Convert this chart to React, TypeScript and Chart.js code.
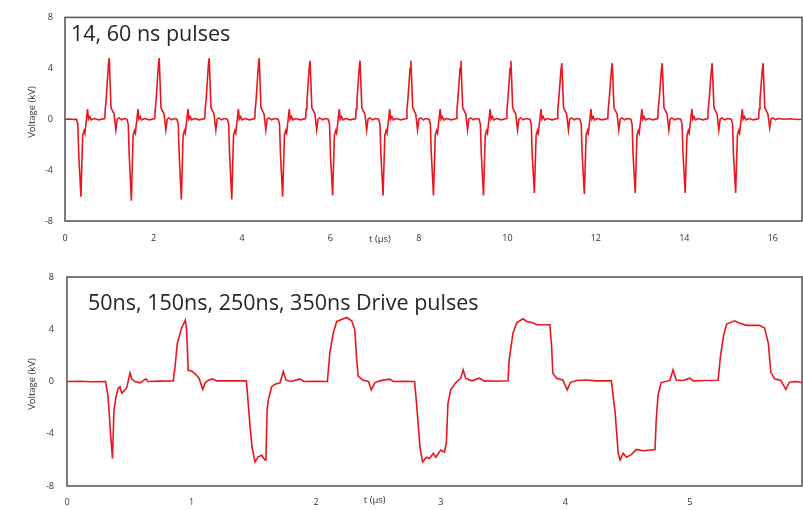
import React, { useEffect, useRef } from 'react';
import { Chart, registerables } from 'chart.js';

Chart.register(...registerables);

type Pt = [number, number];

// ---------- Upper trace: 14 bipolar pulse pairs (t in µs, V in kV) ----------
const topLead: Pt[] = [[0, 0], [0.1, 0.02], [0.2, -0.02]];
const topPulse01: Pt[] = [[0.26,0],[0.29,-0.4],[0.31,-2.7],[0.36,-6.1],[0.40,-1.25],[0.43,-0.9],[0.45,-1.1],[0.51,0.8],[0.53,0],[0.56,0.2],[0.59,-0.05],[0.66,0.05],[0.76,-0.05],
  [0.90,0.05],[0.91,0.8],[0.93,1.5],[0.98,4.2],[1.00,4.8],[1.04,0.9],[1.07,0.7],[1.11,0.4],[1.15,-0.85],[1.18,0],[1.22,0.1],[1.28,-0.05],[1.34,0.05]];
const topPulse02: Pt[] = [[1.40,0],[1.43,-0.4],[1.45,-2.7],[1.50,-6.4],[1.54,-1.25],[1.57,-0.9],[1.59,-1.1],[1.65,0.8],[1.67,0],[1.70,0.2],[1.73,-0.05],[1.80,0.05],[1.90,-0.05],
  [2.03,0.05],[2.04,0.8],[2.06,1.5],[2.11,4.2],[2.13,4.8],[2.17,0.9],[2.20,0.7],[2.24,0.4],[2.28,-0.85],[2.31,0],[2.35,0.1],[2.41,-0.05],[2.47,0.05]];
const topPulse03: Pt[] = [[2.53,0],[2.56,-0.4],[2.58,-2.7],[2.63,-6.3],[2.67,-1.25],[2.70,-0.9],[2.72,-1.1],[2.78,0.8],[2.80,0],[2.83,0.2],[2.86,-0.05],[2.93,0.05],[3.03,-0.05],
  [3.16,0.05],[3.17,0.8],[3.19,1.5],[3.24,4.2],[3.26,4.8],[3.30,0.9],[3.33,0.7],[3.37,0.4],[3.41,-0.85],[3.44,0],[3.48,0.1],[3.54,-0.05],[3.60,0.05]];
const topPulse04: Pt[] = [[3.67,0],[3.70,-0.4],[3.72,-2.7],[3.77,-6.3],[3.81,-1.25],[3.84,-0.9],[3.86,-1.1],[3.92,0.8],[3.94,0],[3.97,0.2],[4.00,-0.05],[4.07,0.05],[4.17,-0.05],
  [4.29,0.05],[4.30,0.8],[4.32,1.5],[4.37,4.2],[4.39,4.8],[4.43,0.9],[4.46,0.7],[4.50,0.4],[4.54,-0.85],[4.57,0],[4.61,0.1],[4.67,-0.05],[4.73,0.05]];
const topPulse05: Pt[] = [[4.82,0],[4.85,-0.4],[4.87,-2.7],[4.92,-6.1],[4.96,-1.25],[4.99,-0.9],[5.01,-1.1],[5.07,0.8],[5.09,0],[5.12,0.2],[5.15,-0.05],[5.22,0.05],[5.32,-0.05],
  [5.44,0.05],[5.45,0.8],[5.47,1.5],[5.52,4.0],[5.54,4.6],[5.58,0.9],[5.61,0.7],[5.65,0.4],[5.69,-0.85],[5.72,0],[5.76,0.1],[5.82,-0.05],[5.88,0.05]];
const topPulse06: Pt[] = [[5.95,0],[5.98,-0.4],[6.00,-2.7],[6.05,-6.0],[6.09,-1.25],[6.12,-0.9],[6.14,-1.1],[6.20,0.8],[6.22,0],[6.25,0.2],[6.28,-0.05],[6.35,0.05],[6.45,-0.05],
  [6.57,0.05],[6.58,0.8],[6.60,1.5],[6.65,4.0],[6.67,4.6],[6.71,0.9],[6.74,0.7],[6.78,0.4],[6.82,-0.85],[6.85,0],[6.89,0.1],[6.95,-0.05],[7.01,0.05]];
const topPulse07: Pt[] = [[7.09,0],[7.12,-0.4],[7.14,-2.7],[7.19,-6.0],[7.23,-1.25],[7.26,-0.9],[7.28,-1.1],[7.34,0.8],[7.36,0],[7.39,0.2],[7.42,-0.05],[7.49,0.05],[7.59,-0.05],
  [7.72,0.05],[7.73,0.8],[7.75,1.5],[7.80,4.0],[7.82,4.6],[7.86,0.9],[7.89,0.7],[7.93,0.4],[7.97,-0.85],[8.00,0],[8.04,0.1],[8.10,-0.05],[8.16,0.05]];
const topPulse08: Pt[] = [[8.23,0],[8.26,-0.4],[8.28,-2.7],[8.33,-6.0],[8.37,-1.25],[8.40,-0.9],[8.42,-1.1],[8.48,0.8],[8.50,0],[8.53,0.2],[8.56,-0.05],[8.63,0.05],[8.73,-0.05],
  [8.85,0.05],[8.86,0.8],[8.88,1.5],[8.93,4.0],[8.95,4.6],[8.99,0.9],[9.02,0.7],[9.06,0.4],[9.10,-0.85],[9.13,0],[9.17,0.1],[9.23,-0.05],[9.29,0.05]];
const topPulse09: Pt[] = [[9.36,0],[9.39,-0.4],[9.41,-2.7],[9.46,-6.0],[9.50,-1.25],[9.53,-0.9],[9.55,-1.1],[9.61,0.8],[9.63,0],[9.66,0.2],[9.69,-0.05],[9.76,0.05],[9.86,-0.05],
  [9.98,0.05],[9.99,0.8],[10.01,1.5],[10.06,4.0],[10.08,4.6],[10.12,0.9],[10.15,0.7],[10.19,0.4],[10.23,-0.85],[10.26,0],[10.30,0.1],[10.36,-0.05],[10.42,0.05]];
const topPulse10: Pt[] = [[10.51,0],[10.54,-0.4],[10.56,-2.7],[10.61,-5.8],[10.65,-1.25],[10.68,-0.9],[10.70,-1.1],[10.76,0.8],[10.78,0],[10.81,0.2],[10.84,-0.05],[10.91,0.05],[11.01,-0.05],
  [11.13,0.05],[11.14,0.8],[11.16,1.5],[11.21,3.8],[11.23,4.4],[11.27,0.9],[11.30,0.7],[11.34,0.4],[11.38,-0.85],[11.41,0],[11.45,0.1],[11.51,-0.05],[11.57,0.05]];
const topPulse11: Pt[] = [[11.64,0],[11.67,-0.4],[11.69,-2.7],[11.74,-5.9],[11.78,-1.25],[11.81,-0.9],[11.83,-1.1],[11.89,0.8],[11.91,0],[11.94,0.2],[11.97,-0.05],[12.04,0.05],[12.14,-0.05],
  [12.27,0.05],[12.28,0.8],[12.30,1.5],[12.35,3.8],[12.37,4.4],[12.41,0.9],[12.44,0.7],[12.48,0.4],[12.52,-0.85],[12.55,0],[12.59,0.1],[12.65,-0.05],[12.71,0.05]];
const topPulse12: Pt[] = [[12.79,0],[12.82,-0.4],[12.84,-2.7],[12.89,-5.8],[12.93,-1.25],[12.96,-0.9],[12.98,-1.1],[13.04,0.8],[13.06,0],[13.09,0.2],[13.12,-0.05],[13.19,0.05],[13.29,-0.05],
  [13.40,0.05],[13.41,0.8],[13.43,1.5],[13.48,3.8],[13.50,4.4],[13.54,0.9],[13.57,0.7],[13.61,0.4],[13.65,-0.85],[13.68,0],[13.72,0.1],[13.78,-0.05],[13.84,0.05]];
const topPulse13: Pt[] = [[13.92,0],[13.95,-0.4],[13.97,-2.7],[14.02,-5.8],[14.06,-1.25],[14.09,-0.9],[14.11,-1.1],[14.17,0.8],[14.19,0],[14.22,0.2],[14.25,-0.05],[14.32,0.05],[14.42,-0.05],
  [14.53,0.05],[14.54,0.8],[14.56,1.5],[14.61,3.8],[14.63,4.4],[14.67,0.9],[14.70,0.7],[14.74,0.4],[14.78,-0.85],[14.81,0],[14.85,0.1],[14.91,-0.05],[14.97,0.05]];
const topPulse14: Pt[] = [[15.06,0],[15.09,-0.4],[15.11,-2.7],[15.16,-5.8],[15.20,-1.25],[15.23,-0.9],[15.25,-1.1],[15.31,0.8],[15.33,0],[15.36,0.2],[15.39,-0.05],[15.46,0.05],[15.56,-0.05],
  [15.68,0.05],[15.69,0.8],[15.71,1.5],[15.76,3.8],[15.78,4.4],[15.82,0.9],[15.85,0.7],[15.89,0.4],[15.93,-0.7],[15.96,0],[16.00,0.1],[16.06,-0.05],[16.12,0.05]];
const topTail: Pt[] = [[16.25, 0], [16.4, 0.03], [16.55, -0.02], [16.66, 0]];

// ---------- Lower trace: 50 / 150 / 250 / 350 ns drive pulses ----------
const bottomNeg1: Pt[] = [[0,0],[0.1,0.02],[0.2,-0.02],[0.31,0],
  [0.33,-1.2],[0.35,-4.0],[0.365,-5.9],[0.377,-2.2],[0.393,-1.2],[0.41,-0.55],[0.425,-0.4],[0.44,-0.9],[0.46,-0.7],[0.48,-0.45],[0.506,0.65],[0.52,0.2],[0.545,0],[0.586,-0.1],[0.634,0.2],[0.65,0],[0.75,0.03],[0.853,0.05]];
const bottomPos1: Pt[] = [[0.867,1.1],[0.885,2.9],[0.92,4.1],[0.95,4.7],[0.96,4.0],[0.973,0.85],[1.0,0.8],[1.027,0.6],[1.06,0.25],[1.09,-0.6],[1.11,-0.1],[1.134,0.1],[1.17,0.2],[1.2,0.05],[1.3,0.05],[1.44,0.05]];
const bottomNeg2: Pt[] = [[1.47,-3.5],[1.485,-5.0],[1.509,-6.15],[1.535,-5.77],[1.563,-5.64],[1.589,-6.0],[1.597,-6.0],[1.606,-2.2],[1.616,-1.4],[1.643,-0.4],[1.67,-0.2],[1.71,-0.1],[1.736,0.77],[1.758,0.1],[1.8,0],[1.87,0.2],[1.9,0],[2.0,0.02],[2.09,0]];
const bottomPos2: Pt[] = [[2.11,2.2],[2.137,3.7],[2.165,4.6],[2.205,4.75],[2.245,4.9],[2.285,4.65],[2.31,4.0],[2.325,1.7],[2.338,0.4],[2.378,0.1],[2.42,0],[2.443,-0.64],[2.47,-0.1],[2.51,0.05],[2.59,0.18],[2.62,0],[2.7,0.02],[2.79,0]];
const bottomNeg3: Pt[] = [[2.806,-1.7],[2.833,-5.0],[2.854,-6.15],[2.886,-5.8],[2.91,-5.9],[2.94,-5.5],[2.96,-5.8],[3.0,-5.25],[3.03,-5.4],[3.045,-4.7],[3.058,-1.7],[3.08,-0.64],[3.12,-0.1],[3.16,0.25],[3.18,0.9],[3.2,0.25],[3.25,0.05],[3.31,0.25],[3.35,0.05],[3.45,0.02],[3.54,0.05]];
const bottomPos3: Pt[] = [[3.55,1.7],[3.58,3.7],[3.61,4.5],[3.66,4.8],[3.69,4.6],[3.74,4.5],[3.77,4.35],[3.876,4.35],[3.89,2.7],[3.90,0.64],[3.93,0.25],[3.98,0.12],[4.015,-0.64],[4.04,-0.08],[4.09,0.08],[4.17,0.12],[4.25,0.05],[4.37,0.05]];
const bottomNeg4: Pt[] = [[4.40,-2.4],[4.425,-5.5],[4.44,-6.0],[4.465,-5.5],[4.49,-5.8],[4.53,-5.6],[4.57,-5.2],[4.625,-5.3],[4.72,-5.2],[4.73,-2.9],[4.745,-1.0],[4.77,-0.08],[4.84,0.08],[4.865,0.9],[4.89,0.12],[4.945,0.08],[5.0,0.25],[5.03,0.05],[5.12,0.08],[5.227,0.1]];
const bottomPos4: Pt[] = [[5.245,1.9],[5.27,3.5],[5.295,4.4],[5.36,4.65],[5.39,4.5],[5.455,4.3],[5.56,4.3],[5.6,4.1],[5.63,2.9],[5.65,0.7],[5.68,0.2],[5.73,0.08],[5.77,-0.6],[5.80,-0.05],[5.855,0],[5.9,-0.1]];

// ---------- Axis ticks ----------
const topXTicks = [0, 2, 4, 6, 8, 10, 12, 14, 16];
const bottomXTicks = [0, 1, 2, 3, 4, 5];
const voltTicks = [-8, -4, 0, 4, 8];

const topTrace: Pt[] = [
  ...topLead, ...topPulse01, ...topPulse02, ...topPulse03, ...topPulse04, ...topPulse05,
  ...topPulse06, ...topPulse07, ...topPulse08, ...topPulse09, ...topPulse10, ...topPulse11,
  ...topPulse12, ...topPulse13, ...topPulse14, ...topTail,
];
const bottomTrace: Pt[] = [
  ...bottomNeg1, ...bottomPos1, ...bottomNeg2, ...bottomPos2,
  ...bottomNeg3, ...bottomPos3, ...bottomNeg4, ...bottomPos4,
];

const FONT = '"Open Sans", "Liberation Sans", sans-serif';

// Frame around the plot area, panel caption and axis titles
const panelDecor = {
  id: 'panelDecor',
  afterDraw(chart: any, _args: any, opts: any) {
    const { ctx, chartArea: a, scales } = chart;
    ctx.save();
    ctx.strokeStyle = '#5a5a5a';
    ctx.lineWidth = 1.6;
    ctx.strokeRect(a.left, a.top, a.right - a.left, a.bottom - a.top);

    ctx.fillStyle = '#262626';
    ctx.font = `21.5px ${FONT}`;
    ctx.textAlign = 'left';
    ctx.textBaseline = 'alphabetic';
    ctx.fillText(opts.caption, a.left + opts.captionDx, opts.captionBaseline);

    ctx.fillStyle = '#333333';
    ctx.font = `9.5px ${FONT}`;
    ctx.textAlign = 'center';
    ctx.textBaseline = 'middle';
    ctx.fillText('t (µs)', scales.x.getPixelForValue(opts.xTitleAt), opts.xTitleY);

    ctx.translate(opts.yTitleX, opts.yTitleY);
    ctx.rotate(-Math.PI / 2);
    ctx.fillText('Voltage (kV)', 0, 0);
    ctx.restore();
  },
};

interface PanelProps {
  trace: Pt[];
  xMax: number;
  xTicks: number[];
  caption: string;
  captionDx: number;
  captionBaseline: number;
  xTitleAt: number;
  xTitleY: number;
  yTitleY: number;
  top: number;
  height: number;
  plotTop: number;
  plotBottom: number;
  plotLeft: number;
  xPad: number;
  yPad: number;
}

function Panel(p: PanelProps) {
  const ref = useRef<HTMLCanvasElement>(null);
  useEffect(() => {
    const tickFont = { family: FONT, size: 9 };
    const chart = new Chart(ref.current as HTMLCanvasElement, {
      type: 'line',
      data: {
        datasets: [
          {
            data: p.trace.map(([x, y]) => ({ x, y })),
            borderColor: 'rgb(234, 22, 30)',
            borderWidth: 1.6,
            pointRadius: 0,
            tension: 0,
            fill: false,
          },
        ],
      },
      options: {
        responsive: false,
        animation: false,
        events: [],
        layout: { padding: { top: p.plotTop, right: 1, left: 0, bottom: 0 } },
        plugins: {
          legend: { display: false },
          tooltip: { enabled: false },
          panelDecor: {
            caption: p.caption,
            captionDx: p.captionDx,
            captionBaseline: p.captionBaseline,
            xTitleAt: p.xTitleAt,
            xTitleY: p.xTitleY,
            yTitleX: 32,
            yTitleY: p.yTitleY,
          },
        } as any,
        scales: {
          x: {
            type: 'linear',
            min: 0,
            max: p.xMax,
            afterBuildTicks: (s: any) => {
              s.ticks = p.xTicks.map((value) => ({ value }));
            },
            afterFit: (s: any) => {
              s.height = p.height - p.plotBottom;
            },
            grid: { display: false, drawTicks: false },
            border: { display: false },
            ticks: {
              padding: p.xPad,
              font: tickFont,
              color: '#333333',
              maxRotation: 0,
              autoSkip: false,
            },
          },
          y: {
            type: 'linear',
            min: -8,
            max: 8,
            afterBuildTicks: (s: any) => {
              s.ticks = voltTicks.map((value) => ({ value }));
            },
            afterFit: (s: any) => {
              s.width = p.plotLeft;
            },
            grid: { display: false, drawTicks: false },
            border: { display: false },
            ticks: { padding: p.yPad, font: tickFont, color: '#333333' },
          },
        },
      },
      plugins: [panelDecor],
    } as any);
    return () => chart.destroy();
  }, []);
  return (
    <canvas
      ref={ref}
      width={803}
      height={p.height}
      style={{ position: 'absolute', left: 0, top: p.top, width: 803, height: p.height }}
    />
  );
}

export default function App() {
  return (
    <div style={{ position: 'absolute', left: 0, top: 0, width: 803, height: 510, background: '#fff' }}>
      <Panel
        trace={topTrace}
        xMax={16.66}
        xTicks={topXTicks}
        caption="14, 60 ns pulses"
        captionDx={6}
        captionBaseline={41}
        xTitleAt={7.12}
        xTitleY={239}
        yTitleY={112}
        top={0}
        height={250}
        plotTop={13}
        plotBottom={221}
        plotLeft={65}
        xPad={12}
        yPad={12}
      />
      <Panel
        trace={bottomTrace}
        xMax={5.9}
        xTicks={bottomXTicks}
        caption="50ns, 150ns, 250ns, 350ns Drive pulses"
        captionDx={21}
        captionBaseline={55}
        xTitleAt={2.47}
        xTitleY={245}
        yTitleY={129}
        top={255}
        height={255}
        plotTop={22}
        plotBottom={231}
        plotLeft={67}
        xPad={11}
        yPad={13}
      />
    </div>
  );
}
